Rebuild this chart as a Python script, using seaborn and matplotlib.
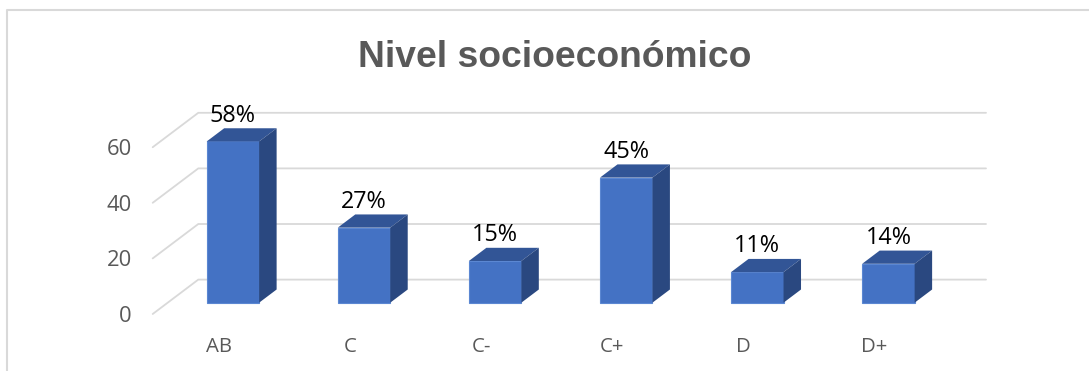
import matplotlib
matplotlib.use("Agg")
import matplotlib.pyplot as plt
import pandas as pd
import seaborn as sns
from matplotlib.lines import Line2D

categories = ["AB", "C", "C-", "C+", "D", "D+"]
values = [58, 27, 15, 45, 11, 14]
labels = ["58%", "27%", "15%", "45%", "11%", "14%"]
y_ticks = [0, 20, 40, 60]

W, H = 1089, 371
BLUE, TOP, SIDE = "#4472C4", "#325596", "#2A4880"
GRID = "#D9D9D9"
TXT = "#595959"
PX_CAT = 131.1
PX_VAL = 2.78
X0, Y0 = 232.9, 302.7      # pixel position of first bar centre / value 0

sns.set_theme(style="white")
plt.rcParams["font.family"] = ["Open Sans", "DejaVu Sans"]
fig = plt.figure(figsize=(W / 100, H / 100), dpi=100)

L, R, T, B = 152.7, 986.0, 100.0, 314.0
ax = fig.add_axes([L / W, 1 - B / H, (R - L) / W, (B - T) / H])
df = pd.DataFrame({"cat": categories, "val": values})
sns.barplot(data=df, x="cat", y="val", ax=ax, color=BLUE, saturation=1, width=0.4,
            edgecolor="#5B87D2", linewidth=0.8, zorder=3)
ax.set_xlim((L - X0) / PX_CAT, (R - X0) / PX_CAT)
ax.set_ylim((Y0 - B) / PX_VAL, (Y0 - T) / PX_VAL)
ax.patch.set_alpha(0)
sns.despine(ax=ax, left=True, bottom=True)
ax.set_xlabel("")
ax.set_ylabel("")

# Depth offsets, in data units
wall_dx = 45.6 / PX_CAT
wall_dy = 34.4 / PX_VAL
front_dy = (B - Y0) / PX_VAL
bar_dx = 17.5 / PX_CAT
bar_dy = 13.2 / PX_VAL
x_left = ax.get_xlim()[0]
x_right = ax.get_xlim()[1]

# Gridlines: floor/wall diagonal plus back wall line
for v in y_ticks:
    ya = v - front_dy
    yb = ya + wall_dy
    ax.plot([x_left, x_left + wall_dx, x_right], [ya, yb, yb], color=GRID, lw=1.3,
            zorder=1, clip_on=False, solid_joinstyle="miter")

# 3D faces of the bars
half = 0.2
for i, v in enumerate(values):
    ax.fill([i - half, i + half, i + half + bar_dx, i - half + bar_dx],
            [v, v, v + bar_dy, v + bar_dy], color=TOP, lw=0, zorder=3)
    ax.fill([i + half, i + half + bar_dx, i + half + bar_dx, i + half],
            [0, bar_dy, v + bar_dy, v], color=SIDE, lw=0, zorder=3)
    ax.text(i, v + bar_dy + 12.5 / PX_VAL, labels[i], ha="center", va="center", fontsize=16.8,
            color="black", zorder=5, clip_on=False)

# Axis labels
ax.set_yticks([v - front_dy for v in y_ticks], [str(v) for v in y_ticks])
ax.set_xticks([i - 14 / PX_CAT for i in range(len(categories))], categories)
ax.tick_params(axis="y", length=0, pad=15, labelsize=15.8, labelcolor=TXT)
ax.tick_params(axis="x", length=0, pad=16.5, labelsize=14.7, labelcolor=TXT)

fig.text(554.5 / W, 1 - 57.5 / H, "Nivel socioeconómico", ha="center", va="center",
         fontsize=26.8, fontweight="bold", color=TXT, family="Liberation Sans")

# Chart frame: left edge and top edge only, running off the picture
fx = [7.0 / W, 7.0 / W, 1.0]
fy = [0, 1 - 10 / H, 1 - 10 / H]
fig.add_artist(Line2D(fx, fy, color=GRID, lw=1.5, transform=fig.transFigure))

fig.savefig("out.png", dpi=100, facecolor="white")
